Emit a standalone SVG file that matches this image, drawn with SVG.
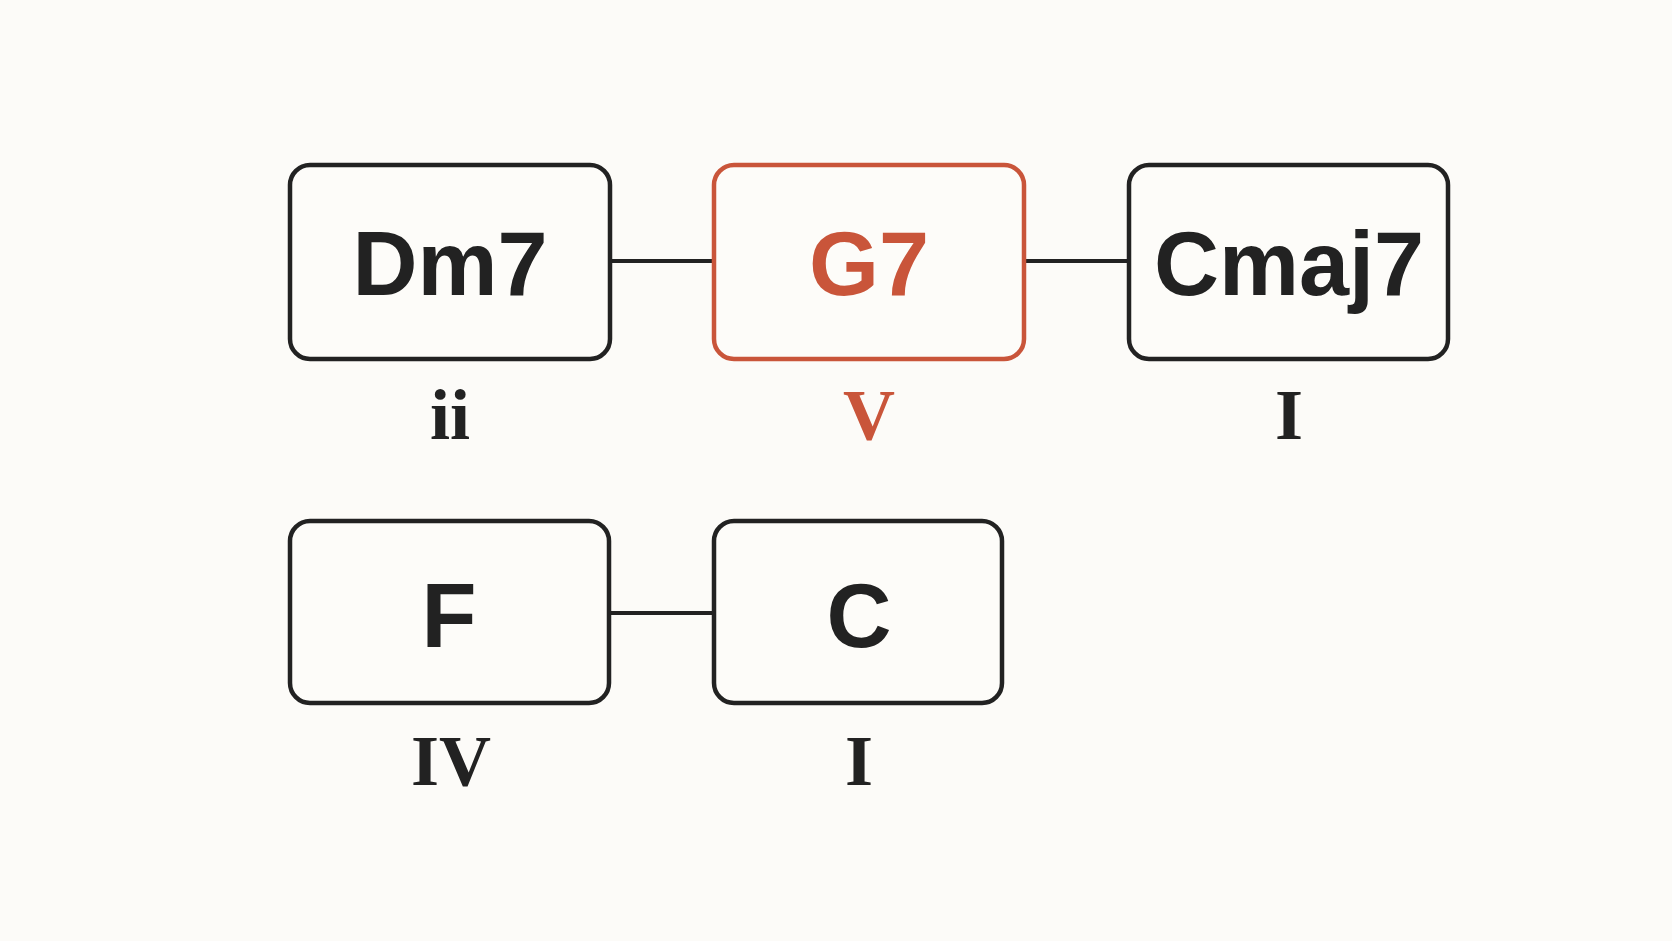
<svg xmlns="http://www.w3.org/2000/svg" width="1672" height="941" viewBox="0 0 1672 941">
<style>
.box{fill:#fdfcf9;stroke:#222;stroke-width:4.5}
.hl{stroke:#c9553a}
.ch{font-family:"Liberation Sans",Arial,sans-serif;font-weight:bold;font-size:90px;fill:#222;text-anchor:middle}
.rn{font-family:"Liberation Serif","Times New Roman",serif;font-weight:bold;font-size:72px;fill:#222;text-anchor:middle}
.or{fill:#c9553a}
.ln{stroke:#222;stroke-width:4}
</style>
<rect width="1672" height="941" fill="#fcfbf8"/>
<g id="connectors">
<line class="ln" x1="610" y1="261" x2="714" y2="261"/>
<line class="ln" x1="1024" y1="261" x2="1129" y2="261"/>
<line class="ln" x1="609" y1="613" x2="714" y2="613"/>
</g>
<g id="dm7"><rect class="box" x="290" y="165" width="320" height="194" rx="20"/><text class="ch" x="450" y="295">Dm7</text><text class="rn" x="450" y="439">ii</text></g>
<g id="g7"><rect class="box hl" x="714" y="165" width="310" height="194" rx="20"/><text class="ch or" x="869" y="295">G7</text><text class="rn or" x="869" y="439">V</text></g>
<g id="cmaj7"><rect class="box" x="1129" y="165" width="319" height="194" rx="20"/><text class="ch" x="1289" y="295">Cmaj7</text><text class="rn" x="1289" y="439">I</text></g>
<g id="f"><rect class="box" x="290" y="521" width="319" height="182" rx="20"/><text class="ch" x="449" y="647">F</text><text class="rn" x="451" y="785">IV</text></g>
<g id="c"><rect class="box" x="714" y="521" width="288" height="182" rx="20"/><text class="ch" x="859" y="647">C</text><text class="rn" x="859" y="785">I</text></g>
</svg>
